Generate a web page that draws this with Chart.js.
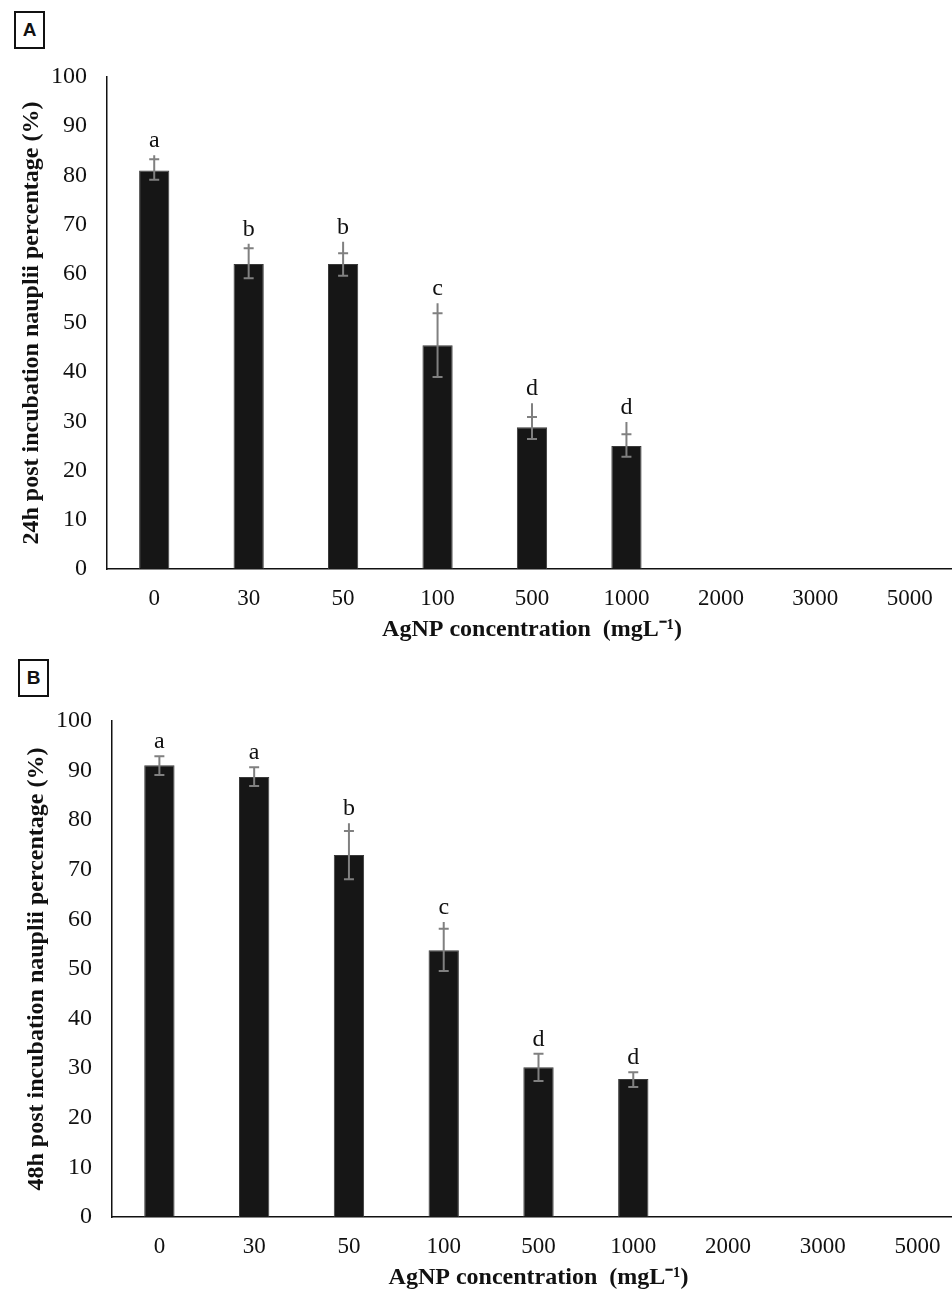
<!DOCTYPE html>
<html>
<head>
<meta charset="utf-8">
<script src="https://cdn.jsdelivr.net/npm/chart.js@4"></script>
<style>
  html, body { margin: 0; padding: 0; background: #fff; overflow: hidden; }
  body { width: 952px; height: 1292px; position: relative; }
  .panel { position: absolute; left: 0; }
  .tag {
    position: absolute; border: 2px solid #111; font: 600 19px "Liberation Sans", Arial, sans-serif;
    width: 27px; height: 34px; line-height: 34px; text-align: center; color: #111;
  }
</style>
</head>
<body>
<div class="tag" style="left:14px; top:11px;">A</div>
<div class="tag" style="left:18px; top:659px;">B</div>
<div class="panel" style="top:0; width:960px; height:650px;"><canvas id="chartA"></canvas></div>
<div class="panel" style="top:650px; width:968px; height:642px;"><canvas id="chartB"></canvas></div>
<script>
const concentrations = ["0", "30", "50", "100", "500", "1000", "2000", "3000", "5000"];
const yTicks = [0, 10, 20, 30, 40, 50, 60, 70, 80, 90, 100];

// 24 h
const values24 = [81, 62, 62, 45.5, 28.8, 25, 0, 0, 0];
const errLow24 = [79.1, 59.1, 59.6, 39, 26.4, 22.8];
const errCap24 = [83.3, 65.2, 64.2, 52, 30.9, 27.4];
const errTop24 = [84.1, 66.1, 66.5, 54, 33.7, 29.9];
const letters24 = ["a", "b", "b", "c", "d", "d"];

// 48 h
const values48 = [91.1, 88.7, 73, 53.8, 30.2, 27.8, 0, 0, 0];
const errLow48 = [89.1, 86.9, 68.1, 49.6, 27.4, 26.2];
const errCap48 = [92.9, 90.7, 77.8, 58.1, 32.9, 29.2];
const errTop48 = [92.9, 90.7, 79.4, 59.5, 32.9, 29.2];
const letters48 = ["a", "a", "b", "c", "d", "d"];

const serif = "'Liberation Serif', 'Times New Roman', serif";

const errorBars = {
  id: "errorBars",
  afterDatasetsDraw(chart, args, opts) {
    const ctx = chart.ctx;
    const x = chart.scales.x;
    const y = chart.scales.y;
    ctx.save();
    ctx.strokeStyle = "#808080";
    ctx.lineWidth = 2;
    opts.low.forEach((lo, i) => {
      const cx = x.getPixelForValue(i);
      const yLo = y.getPixelForValue(lo);
      const yCap = y.getPixelForValue(opts.cap[i]);
      const yTop = y.getPixelForValue(opts.top[i]);
      ctx.beginPath();
      ctx.moveTo(cx, yLo);
      ctx.lineTo(cx, yTop);
      ctx.moveTo(cx - 5, yLo);
      ctx.lineTo(cx + 5, yLo);
      ctx.moveTo(cx - 5, yCap);
      ctx.lineTo(cx + 5, yCap);
      ctx.stroke();
    });
    ctx.fillStyle = "#111";
    ctx.font = "24px " + serif;
    ctx.textAlign = "center";
    ctx.textBaseline = "alphabetic";
    opts.letters.forEach((l, i) => {
      const cx = x.getPixelForValue(i);
      const yTop = y.getPixelForValue(opts.top[i]);
      ctx.fillText(l, cx, yTop - 8);
    });
    ctx.restore();
  }
};

function makeChart(id, values, err, yTitle, box) {
  return new Chart(document.getElementById(id), {
    type: "bar",
    data: {
      labels: concentrations,
      datasets: [{
        data: values,
        backgroundColor: "#161616",
        borderColor: "#3a3a3a",
        borderWidth: 1,
        barPercentage: 1,
        categoryPercentage: 0.32
      }]
    },
    plugins: [errorBars],
    options: {
      responsive: true,
      maintainAspectRatio: false,
      animation: false,
      layout: { padding: { left: box.padLeft, top: box.top, right: 3, bottom: box.padBottom } },
      plugins: {
        legend: { display: false },
        tooltip: { enabled: false },
        errorBars: err
      },
      scales: {
        x: {
          grid: { display: false, drawTicks: false },
          border: { display: true, color: "#111", width: 1.5 },
          ticks: { color: "#111", font: { family: serif, size: 23 }, padding: 16 },
          title: {
            display: true, text: "AgNP concentration  (mgL\u207B\u00B9)", color: "#111",
            font: { family: serif, size: 24, weight: "bold" }, padding: 0
          },
          afterFit(scale) { scale.height = box.xHeight; }
        },
        y: {
          min: 0, max: 100,
          afterBuildTicks(scale) { scale.ticks = yTicks.map(v => ({ value: v })); },
          grid: { display: false, drawTicks: false },
          border: { display: true, color: "#111", width: 1.5 },
          ticks: { color: "#111", font: { family: serif, size: 24 }, padding: 20 },
          title: {
            display: true, text: yTitle, color: "#111",
            font: { family: serif, size: 24, weight: "bold" }, padding: 0
          },
          afterFit(scale) { scale.width = box.yWidth; }
        }
      }
    }
  });
}

makeChart("chartA", values24,
  { low: errLow24, cap: errCap24, top: errTop24, letters: letters24 },
  "24h post incubation nauplii percentage (%)",
  { padLeft: 17, top: 77, padBottom: 6, yWidth: 90, xHeight: 75 });

makeChart("chartB", values48,
  { low: errLow48, cap: errCap48, top: errTop48, letters: letters48 },
  "48h post incubation nauplii percentage (%)",
  { padLeft: 22, top: 71, padBottom: 0, yWidth: 90, xHeight: 75 });
</script>
</body>
</html>
